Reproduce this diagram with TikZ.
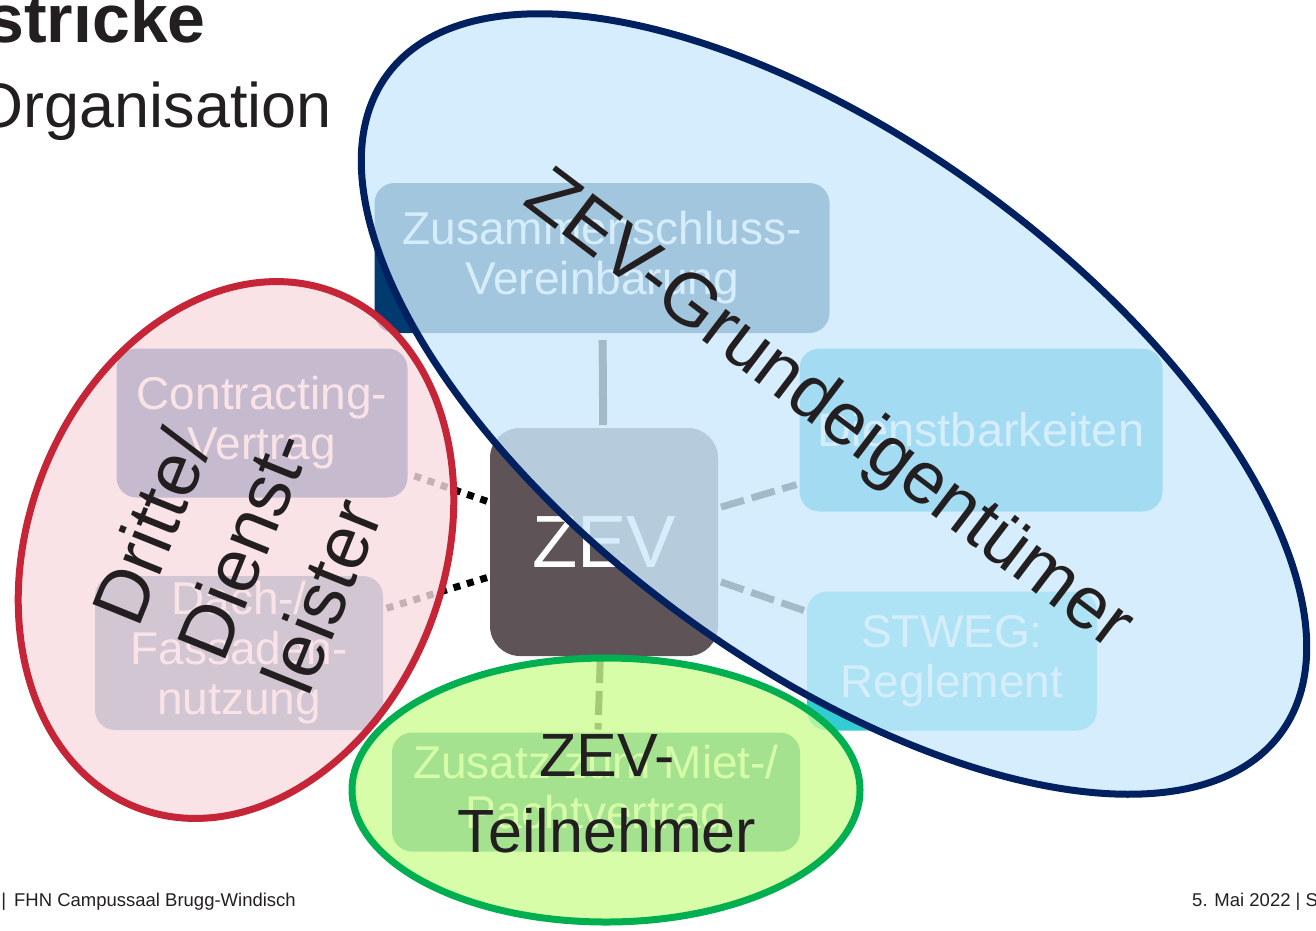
\documentclass[tikz,border=0pt]{standalone}
\usepackage{fontspec}
\setmainfont{Liberation Sans}
\usetikzlibrary{positioning, shapes.geometric}
\definecolor{Ink}{HTML}{231F20}
\definecolor{Navy}{HTML}{002060}
\definecolor{BoxNavy}{HTML}{003A6E}
\definecolor{BoxGrey}{HTML}{5E5458}
\definecolor{BoxBlue}{HTML}{00A5D2}
\definecolor{BoxCyan}{HTML}{33CCD4}
\definecolor{BoxPurple}{HTML}{00328C}
\definecolor{BoxSteel}{HTML}{416EA0}
\definecolor{BoxTeal}{HTML}{00787F}
\definecolor{RedLine}{HTML}{C52536}
\definecolor{GreenLine}{HTML}{00B050}
\definecolor{BlueFill}{HTML}{CCE9FC}
\definecolor{RedFill}{HTML}{F8DCE0}
\definecolor{GreenFill}{HTML}{CDFD94}
\tikzset{
    docbox/.style={rectangle, rounded corners=20pt, text=white, align=center, inner sep=0pt, outer sep=3pt, font=\fontsize{46}{50}\selectfont},
    solidlink/.style={line width=8pt, black},
    dashlink/.style={line width=7pt, black, dash pattern=on 24pt off 8pt},
    dotlink/.style={line width=7pt, black, dash pattern=on 7pt off 7pt},
    party/.style={ellipse, inner sep=0pt, line width=7pt, fill opacity=0.8},
    partylabel/.style={text=Ink, align=center, inner sep=0pt},
}

\begin{document}
\begin{tikzpicture}[x=1pt, y=-1pt]
    \useasboundingbox (0,0) rectangle (1316,930);
    \clip (0,0) rectangle (1316,930);

    % --- Titel ---
    \node[anchor=base east, inner sep=0pt, text=Ink, font=\bfseries\fontsize{68}{76}\selectfont] (title) at (206,42) {stricke};
    \node[anchor=base east, inner sep=0pt, text=Ink, font=\fontsize{63}{72}\selectfont] (subtitle) at (332,127) {Organisation};

    % --- Vertraege ---
    \node[docbox, fill=BoxNavy, minimum width=455pt, minimum height=150pt] (zsv) at (602,258) {Zusammenschluss-\\Vereinbarung};
    \node[docbox, fill=BoxGrey, minimum width=228pt, minimum height=228pt, rounded corners=30pt, font=\fontsize{74}{80}\selectfont] (zev) at (604,542) {ZEV};
    \node[docbox, fill=BoxPurple, minimum width=291pt, minimum height=149pt] (contract) at (262,423) {Contracting-\\Vertrag};
    \node[docbox, fill=BoxSteel, minimum width=288pt, minimum height=154pt] (dach) at (239,653) {Dach-/\\Fassaden-\\nutzung};
    \node[docbox, fill=BoxBlue, minimum width=363pt, minimum height=163pt, font=\fontsize{47}{50}\selectfont] (dienst) at (981,430) {Dienstbarkeiten};
    \node[docbox, fill=BoxCyan, minimum width=290pt, minimum height=139pt] (stweg) at (952,661) {STWEG:\\Reglement};
    \node[docbox, fill=BoxTeal, minimum width=408pt, minimum height=119pt] (zusatz) at (596,792) {Zusatz zum Miet-/\\Pachtvertrag};

    % --- Verbindungen ---
    \draw[solidlink, shorten <=4pt] (zsv) -- (zev);
    \draw[dashlink] (zev) -- (dienst);
    \draw[dashlink] (zev) -- (stweg);
    \draw[dashlink] (zev) -- (zusatz);
    \draw[dotlink] (zev) -- (contract);
    \draw[dotlink] (zev) -- (dach);

    % --- Parteien ---
    \node[party, draw=RedLine, fill=RedFill, minimum width=416pt, minimum height=552pt, rotate=-20.8] (dritte) at (236,550) {};
    \node[party, draw=Navy, fill=BlueFill, minimum width=1110pt, minimum height=520pt, rotate=-36.4] (eigen) at (834,404) {};
    \node[party, draw=GreenLine, fill=GreenFill, minimum width=508pt, minimum height=264pt] (teiln) at (606,790) {};

    \node[partylabel, rotate=-37.2, font=\fontsize{74}{90}\selectfont] (eigenlabel) at (828,412) {ZEV-Grundeigentümer};
    \node[partylabel, rotate=68, align=left, font=\fontsize{75}{92}\selectfont] (drittelabel) at (243,544) {Dritte/\\Dienst-\\leister};
    \node[partylabel, font=\fontsize{61}{76}\selectfont] (teillabel) at (607,794) {ZEV-\\Teilnehmer};

    % --- Fusszeile ---
    \node[anchor=base east, inner sep=0pt, text=Ink, font=\fontsize{18.5}{22}\selectfont] (place) at (296,906) {|\hspace{8pt}FHN Campussaal Brugg-Windisch};
    \node[anchor=base west, inner sep=0pt, text=Ink, font=\fontsize{18.5}{22}\selectfont] (date) at (1192,906) {5. Mai 2022 | S};
\end{tikzpicture}
\end{document}
